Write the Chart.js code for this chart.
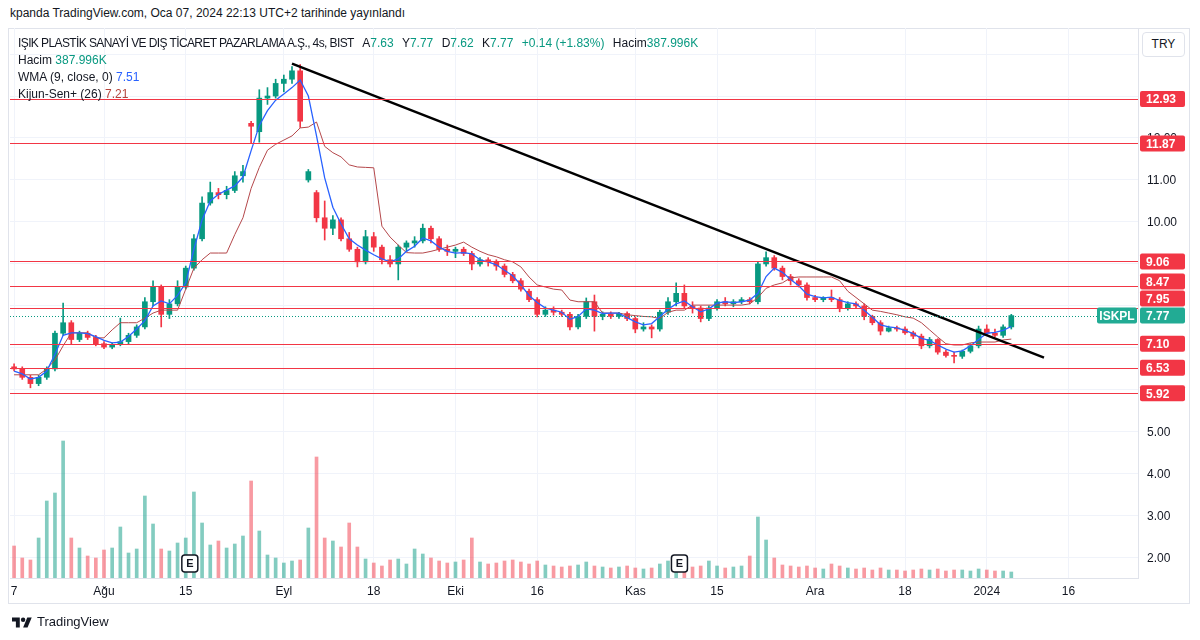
<!DOCTYPE html>
<html lang="tr">
<head>
<meta charset="UTF-8" />
<title>ISKPL 4s</title>
<script src="https://cdn.jsdelivr.net/npm/chart.js@4.4.1/dist/chart.umd.min.js"></script>
<style>
  html, body { margin:0; padding:0; background:#fff; }
  body { width:1200px; height:640px; position:relative; overflow:hidden;
         font-family:"Liberation Sans", Arial, sans-serif; color:#131722; }
  #pub { position:absolute; left:10px; top:6px; font-size:12px; }
  #frame { position:absolute; left:8px; top:28px; width:1182px; height:576px;
           border:1px solid #e0e3eb; box-sizing:border-box; }
  #chart { position:absolute; left:0; top:0; }
  .legend { position:absolute; left:18px; top:35px; font-size:12px; line-height:17px; white-space:nowrap; }
  .legend .title { letter-spacing:-0.6px; }
  .legend span.g { color:#089981; }
  .legend span.b { color:#2962ff; }
  .legend span.r { color:#b4443c; }
  .legend .sp { margin-left:5px; }
  #try { position:absolute; left:1142px; top:32px; width:43px; height:25px; border:1px solid #e0e3eb;
         border-radius:4px; box-sizing:border-box; background:#fff; font-size:12px; text-align:center; line-height:23px; }
  #logo { position:absolute; left:12px; top:614px; font-size:13px; display:flex; align-items:center; }
  #logo svg { margin-right:5px; }
</style>
</head>
<body>
<div id="pub">kpanda TradingView.com, Oca 07, 2024 22:13 UTC+2 tarihinde yayınlandı</div>
<div id="frame"></div>
<canvas id="chart" width="1200" height="640"></canvas>
<div class="legend">
  <div><span class="title">IŞIK PLASTİK SANAYİ VE DIŞ TİCARET PAZARLAMA A.Ş., 4s, BIST</span>
    <span class="sp">A<span class="g">7.63</span></span>
    <span class="sp">Y<span class="g">7.77</span></span>
    <span class="sp">D<span class="g">7.62</span></span>
    <span class="sp">K<span class="g">7.77</span></span>
    <span class="sp g">+0.14 (+1.83%)</span>
    <span class="sp">Hacim<span class="g">387.996K</span></span>
  </div>
  <div>Hacim <span class="g">387.996K</span></div>
  <div>WMA (9, close, 0) <span class="b">7.51</span></div>
  <div>Kijun-Sen+ (26) <span class="r">7.21</span></div>
</div>
<div id="try">TRY</div>
<div id="logo">
  <svg width="20" height="14" viewBox="0 0 36 24"><path d="M14 22H7V11H0V4h14z" fill="#131722"/><circle cx="20" cy="8" r="4" fill="#131722"/><path d="M28 22h-8l7.5-18h8z" fill="#131722"/></svg>
  <span>TradingView</span>
</div>

<script>
// trading days (BIST, weekends and holidays skipped)
var firstDay = '2023-07-17', lastDay = '2024-01-26';
var holidays = ['2023-08-30', '2024-01-01'];

var axisTicks = [[0,'7'],[11,'Ağu'],[21,'15'],[33,'Eyl'],[44,'18'],[54,'Eki'],[64,'16'],
                 [76,'Kas'],[86,'15'],[98,'Ara'],[109,'18'],[119,'2024'],[129,'16']];

var open = [6.55,6.5,6.3,6.15,6.3,6.5,7.35,7.6,7.2,7.35,
  7.25,7.1,7.02,7.08,7.15,7.3,7.5,8.1,8.45,7.8,
  8.05,8.45,8.9,9.6,10.45,10.7,10.65,10.75,11.1,12.35,
  12.15,12.95,13.0,13.3,13.4,13.6,11.0,10.7,10.1,9.85,
  10.05,9.6,9.35,9.05,9.65,9.4,9.1,9.0,9.4,9.5,
  9.55,9.85,9.6,9.35,9.3,9.35,9.25,9.0,9.1,9.05,
  8.95,8.75,8.6,8.35,8.15,7.8,7.9,7.85,7.8,7.5,
  7.75,8.1,7.75,7.8,7.75,7.82,7.7,7.45,7.5,7.45,
  7.85,8.1,8.3,8.0,7.95,7.7,7.95,8.1,8.05,8.1,
  8.15,8.1,9.0,9.15,8.9,8.7,8.6,8.5,8.2,8.15,
  8.2,8.15,7.95,8.05,8.0,7.75,7.6,7.4,7.48,7.45,
  7.36,7.28,7.05,7.2,6.9,6.82,6.8,6.92,7.05,7.45,
  7.35,7.3,7.5];
var high = [6.62,6.55,6.35,6.35,6.55,7.4,8.07,7.65,7.4,7.4,
  7.3,7.15,7.12,7.71,7.35,7.55,8.2,8.6,8.5,8.15,
  8.6,8.95,9.7,10.6,10.95,10.8,10.85,11.2,11.35,12.4,
  13.15,13.2,13.4,13.5,13.7,13.75,11.25,10.75,10.5,10.15,
  10.1,9.75,9.4,9.8,9.75,9.45,9.2,9.45,9.55,9.65,
  9.95,9.9,9.65,9.45,9.4,9.4,9.3,9.15,9.15,9.1,
  9.0,8.8,8.65,8.4,8.2,7.98,7.98,7.9,7.85,7.8,
  8.19,8.26,7.86,7.86,7.85,7.86,7.74,7.6,7.55,7.9,
  8.2,8.55,8.5,8.1,8.0,8.0,8.15,8.2,8.15,8.2,
  8.2,9.05,9.29,9.2,8.95,8.75,8.65,8.55,8.25,8.22,
  8.38,8.2,8.1,8.1,8.05,7.78,7.65,7.52,7.52,7.5,
  7.4,7.33,7.25,7.22,6.95,6.9,6.95,7.1,7.52,7.55,
  7.45,7.55,7.8];
var low = [6.45,6.25,6.05,6.1,6.25,6.45,7.3,7.1,7.15,7.2,
  7.05,6.98,6.98,7.05,7.1,7.25,7.45,8.0,7.5,7.7,
  8.0,8.4,8.85,9.55,10.4,10.55,10.55,10.7,10.95,11.88,
  11.9,12.8,12.95,13.1,13.3,12.25,10.95,10.0,9.57,9.7,
  9.55,9.3,8.93,9.0,9.3,9.0,8.93,8.62,9.3,9.4,
  9.5,9.5,9.3,9.2,9.15,9.2,8.86,8.95,8.95,8.85,
  8.69,8.55,8.35,8.1,7.74,7.75,7.78,7.75,7.43,7.45,
  7.7,7.4,7.67,7.7,7.7,7.65,7.36,7.4,7.24,7.4,
  7.8,8.0,7.95,7.83,7.62,7.65,7.9,8.0,7.98,8.05,
  8.05,8.05,8.95,8.85,8.62,8.5,8.45,8.14,8.1,8.1,
  8.1,7.86,7.9,7.95,7.67,7.55,7.31,7.38,7.4,7.32,
  7.22,6.98,7.0,6.85,6.78,6.64,6.75,6.88,7.0,7.3,
  7.26,7.25,7.45];
var close = [6.5,6.3,6.15,6.3,6.5,7.35,7.6,7.2,7.35,7.25,
  7.1,7.02,7.08,7.15,7.3,7.5,8.1,8.45,7.8,8.05,
  8.45,8.9,9.6,10.45,10.7,10.65,10.75,11.1,11.2,12.28,
  12.95,13.0,13.3,13.4,13.6,12.4,11.2,10.1,9.85,10.05,
  9.6,9.35,9.05,9.65,9.4,9.1,9.0,9.4,9.5,9.55,
  9.85,9.6,9.35,9.3,9.35,9.25,9.0,9.1,9.05,8.95,
  8.75,8.6,8.4,8.15,7.8,7.9,7.85,7.8,7.5,7.75,
  8.1,7.75,7.8,7.75,7.82,7.7,7.45,7.5,7.45,7.85,
  8.1,8.3,8.0,7.95,7.7,7.95,8.1,8.05,8.1,8.15,
  8.1,9.0,9.15,8.9,8.7,8.6,8.5,8.2,8.15,8.2,
  8.15,7.95,8.05,8.0,7.75,7.6,7.4,7.48,7.45,7.36,
  7.28,7.05,7.2,6.9,6.82,6.8,6.92,7.05,7.45,7.35,
  7.3,7.5,7.77];
var volume = [32,20,18,40,77,85,137,40,30,22,
  20,28,30,51,25,29,82,54,29,27,
  35,40,86,55,33,37,30,34,42,97,
  47,23,20,15,17,18,50,121,40,37,
  31,55,31,19,15,12,18,19,14,29,
  24,20,17,15,16,18,40,16,14,15,
  17,18,16,14,17,13,12,11,12,13,
  16,12,11,10,11,12,10,9,10,14,
  17,9,10,11,12,17,12,10,11,12,
  22,61,38,20,13,12,11,12,10,9,
  14,12,10,9,10,8,10,8,8,7,
  8,9,8,9,7,8,8,7,9,8,
  7,7,6];
var wma = [6.45,6.38,6.26,6.3,6.45,6.85,7.3,7.36,7.36,7.34,
  7.27,7.18,7.12,7.14,7.27,7.45,7.65,8.0,8.12,8.05,
  8.25,8.55,9.35,10.05,10.5,10.66,10.76,10.86,11.07,11.7,
  12.3,12.65,12.9,13.05,13.2,13.38,13.0,12.05,11.05,10.35,
  9.95,9.6,9.45,9.33,9.22,9.12,9.05,9.12,9.3,9.42,
  9.62,9.55,9.4,9.3,9.26,9.27,9.24,9.1,9.05,8.98,
  8.85,8.72,8.5,8.25,8.08,7.95,7.9,7.85,7.68,7.75,
  7.93,7.9,7.82,7.83,7.83,7.72,7.62,7.55,7.58,7.75,
  7.92,8.05,8.12,7.98,7.86,7.93,8.07,8.1,8.08,8.1,
  8.14,8.3,8.7,8.9,8.8,8.63,8.48,8.28,8.22,8.19,
  8.21,8.13,8.08,8.05,7.9,7.73,7.55,7.5,7.48,7.42,
  7.34,7.23,7.18,7.07,6.97,6.9,6.93,7.05,7.2,7.35,
  7.37,7.42,7.51];
var kijun = [6.36,6.36,6.36,6.36,6.5,6.71,7.05,7.36,7.36,7.36,
  7.24,7.24,7.43,7.6,7.6,7.6,7.71,7.83,7.9,7.9,
  7.9,8.4,8.9,9.1,9.26,9.26,9.26,9.7,10.1,10.8,
  11.3,11.71,11.85,11.95,12.05,12.24,12.26,12.38,11.8,11.65,
  11.55,11.36,11.31,11.3,11.29,9.9,9.64,9.45,9.27,9.26,
  9.26,9.3,9.35,9.4,9.45,9.52,9.4,9.3,9.22,9.17,
  9.1,9.05,8.93,8.69,8.5,8.45,8.4,8.38,8.14,8.1,
  8.1,8.1,7.83,7.83,7.83,7.79,7.77,7.75,7.74,7.7,
  7.85,7.9,7.9,8.02,8.02,8.02,8.02,8.02,8.02,8.02,
  8.05,8.2,8.42,8.5,8.55,8.67,8.69,8.69,8.69,8.69,
  8.69,8.6,8.35,8.2,8.05,7.9,7.87,7.83,7.79,7.74,
  7.71,7.6,7.43,7.26,7.1,7.07,7.07,7.12,7.14,7.14,
  7.14,7.19,7.21];

var levels = [12.93, 11.87, 9.06, 8.47, 7.95, 7.10, 6.53, 5.92];
var lastPrice = 7.77, symbol = 'ISKPL';
var trendDates = ['2023-09-04', '2024-01-11'];
var trendPrices = [13.77, 6.77];
var earnings = [21.5, 81.4];

var UP = '#089981', DOWN = '#f23645';

var days = [];
for (var d = new Date(firstDay + 'T00:00:00Z'); d.toISOString().slice(0,10) <= lastDay; d.setUTCDate(d.getUTCDate()+1)) {
  var s = d.toISOString().slice(0,10), wd = d.getUTCDay();
  if (wd === 0 || wd === 6 || holidays.indexOf(s) >= 0) continue;
  days.push(s);
}
var tickText = {};
axisTicks.forEach(function(t){ tickText[t[0]] = t[1]; });

function isUp(i){ return close[i] >= open[i]; }

// price ticks that sit right under a level label are not shown
function tickHidden(v){
  return v >= 14 || levels.some(function(l){ return Math.abs(v - l) < 0.11; });
}

var overlay = {
  id: 'overlay',
  afterDatasetsDraw: function(ch){
    var c = ch.ctx, a = ch.chartArea, y = ch.scales.y;
    c.save();
    c.strokeStyle = '#f23645'; c.lineWidth = 1.2;
    levels.forEach(function(v){
      var py = Math.round(y.getPixelForValue(v)) + 0.5;
      c.beginPath(); c.moveTo(a.left, py); c.lineTo(a.right, py); c.stroke();
    });
    var py = Math.round(y.getPixelForValue(lastPrice)) + 0.5;
    c.strokeStyle = UP; c.lineWidth = 1; c.setLineDash([1,2]);
    c.beginPath(); c.moveTo(a.left, py); c.lineTo(a.right, py); c.stroke();
    c.restore();
  },
  afterDraw: function(ch){
    var c = ch.ctx, a = ch.chartArea, y = ch.scales.y, x = ch.scales.x;
    c.save();
    c.font = 'bold 12px "Liberation Sans", Arial, sans-serif';
    c.textBaseline = 'middle';
    var h = 17;
    // stack price labels from the bottom up so they don't overlap
    var items = levels.map(function(v){ return {v:v, col:DOWN}; });
    items.push({v:lastPrice, col:'#22ab94', sym:true});
    items.forEach(function(it){ it.y = y.getPixelForValue(it.v); });
    items.sort(function(p,q){ return q.y - p.y; });
    for (var i = 1; i < items.length; i++) {
      if (items[i].y > items[i-1].y - h) items[i].y = items[i-1].y - h;
    }
    items.forEach(function(it){
      c.fillStyle = it.col;
      c.beginPath(); c.roundRect(a.right + 2, it.y - 8, 45, 16, 2); c.fill();
      c.fillStyle = '#fff'; c.textAlign = 'left';
      c.fillText(it.v.toFixed(2), a.right + 8, it.y + 1);
      if (it.sym) {
        c.fillStyle = it.col;
        c.beginPath(); c.roundRect(a.right - 41, it.y - 8, 40, 16, 2); c.fill();
        c.fillStyle = '#fff'; c.textAlign = 'center';
        c.fillText(symbol, a.right - 21, it.y + 1);
      }
    });
    // earnings markers
    earnings.forEach(function(e){
      var px = x.getPixelForValue(e), py = a.bottom - 15;
      c.fillStyle = '#fff'; c.strokeStyle = '#131722'; c.lineWidth = 1.5;
      c.beginPath(); c.roundRect(px - 8, py - 8, 16, 17, 3); c.fill(); c.stroke();
      c.fillStyle = '#131722'; c.textAlign = 'center'; c.font = 'bold 11px "Liberation Sans", Arial, sans-serif';
      c.fillText('E', px, py + 1);
    });
    c.restore();
  }
};

Chart.defaults.font.family = '"Liberation Sans", Arial, sans-serif';
Chart.defaults.font.size = 12;
Chart.defaults.color = '#131722';

new Chart(document.getElementById('chart'), {
  type: 'bar',
  data: {
    labels: days,
    datasets: [
      { type:'line', label:'trend', order:0, data: trendDates.map(function(t,i){ return {x:t, y:trendPrices[i]}; }),
        borderColor:'#000', borderWidth:2.5, pointRadius:0 },
      { type:'line', label:'WMA', order:1, data: wma, borderColor:'#2962ff', borderWidth:1.3, pointRadius:0 },
      { type:'line', label:'Kijun', order:2, data: kijun, borderColor:'#b4474a', borderWidth:1, pointRadius:0 },
      { label:'body', order:3, grouped:false, barThickness:5, minBarLength:1,
        data: open.map(function(o,i){ return [o, close[i]]; }),
        backgroundColor: function(ctx){ return isUp(ctx.dataIndex) ? UP : DOWN; } },
      { label:'wick', order:4, grouped:false, barThickness:1,
        data: low.map(function(l,i){ return [l, high[i]]; }),
        backgroundColor: function(ctx){ return isUp(ctx.dataIndex) ? UP : DOWN; } },
      { label:'Hacim', order:5, grouped:false, barThickness:3, yAxisID:'yv', data: volume,
        backgroundColor: function(ctx){ return isUp(ctx.dataIndex) ? 'rgba(8,153,129,0.5)' : 'rgba(242,54,69,0.5)'; } }
    ]
  },
  options: {
    responsive:false, animation:false, devicePixelRatio:1, events:[],
    layout:{ padding:{ left:10, top:28, right:0, bottom:37 } },
    plugins:{ legend:{ display:false }, tooltip:{ enabled:false } },
    scales:{
      x:{ offset:true,
          grid:{ offset:false, drawTicks:false, color:function(c){ return c.tick && c.tick.label ? '#f0f3fa' : 'rgba(0,0,0,0)'; } },
          border:{ color:'#e0e3eb' },
          ticks:{ autoSkip:false, maxRotation:0, padding:6, callback:function(v,i){ return tickText[i] || ''; } },
          afterFit:function(s){ s.height = 25; } },
      y:{ position:'right', min:1.52, max:14.62,
          grid:{ color:'#f0f3fa', drawTicks:false },
          border:{ color:'#e0e3eb' },
          ticks:{ stepSize:1, includeBounds:false, padding:9, labelOffset:1,
                  callback:function(v){ return tickHidden(v) ? '' : v.toFixed(2); } },
          afterFit:function(s){ s.width = 62; } },
      yv:{ display:false, min:0, max:550 }
    }
  },
  plugins:[overlay]
});
</script>
</body>
</html>
